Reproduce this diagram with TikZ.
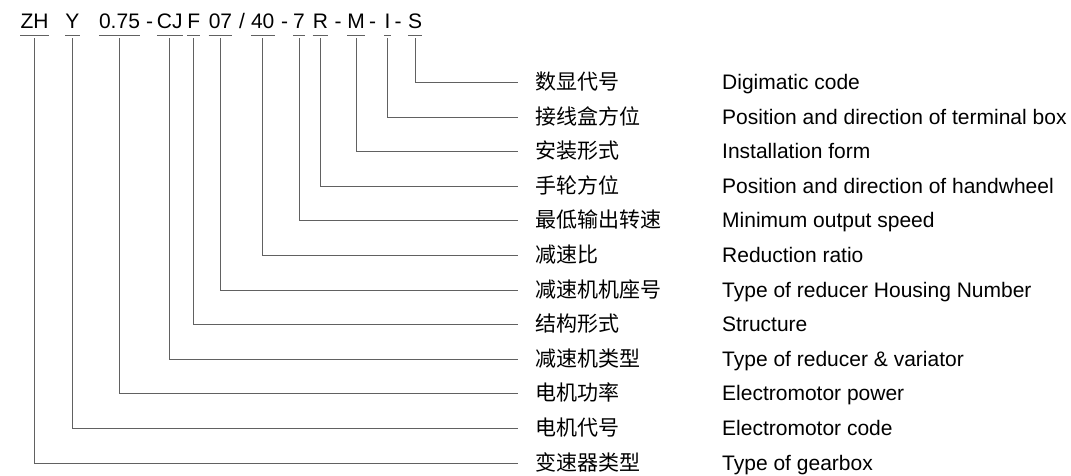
\documentclass[tikz,border=0pt]{standalone}
\usepackage{fontspec}
\setmainfont{Liberation Sans}
\newfontfamily\cjk{Noto Sans CJK SC}
\begin{document}
\begin{tikzpicture}[x=1pt,y=-1pt,
  font=\fontsize{21}{25}\selectfont,
  tok/.style={anchor=base, inner xsep=0pt, inner ysep=0pt, text height=15pt, text depth=7.2pt},
  link/.style={draw=black!62, line width=1pt},
  bar/.style={draw=black!62, line width=1pt},
  cn/.style={anchor=base west, inner sep=0pt, font=\cjk\fontsize{21}{25}\selectfont},
  en/.style={anchor=base west, inner sep=0pt}]
\useasboundingbox (0,0) rectangle (1071,476);
% code tokens
\foreach \i/\x/\s in {0/415/S, 1/387.5/I, 2/356/M, 3/320.5/R, 4/299/7, 5/262.7/40,
  6/220.5/07, 7/193.8/F, 8/169.8/CJ, 9/119.5/0.75, 10/72.5/Y, 11/34.5/ZH}{
  \node[tok] (t\i) at (\x,28.5) {\s};
  \draw[bar] (t\i.south west) -- (t\i.south east);
}
% separators
\node[tok] (d1) at (149.5,28.5) {-};
\node[tok] (d2) at (242,28.5) {/};
\node[tok] (d3) at (284.5,28.5) {-};
\node[tok] (d4) at (338,28.5) {-};
\node[tok] (d5) at (372.5,28.5) {-};
\node[tok] (d6) at (398,28.5) {-};
% rows
\foreach \i/\c/\e in {
  0/数显代号/Digimatic code,
  1/接线盒方位/Position and direction of terminal box,
  2/安装形式/Installation form,
  3/手轮方位/Position and direction of handwheel,
  4/最低输出转速/Minimum output speed,
  5/减速比/Reduction ratio,
  6/减速机机座号/Type of reducer Housing Number,
  7/结构形式/Structure,
  8/减速机类型/Type of reducer \& variator,
  9/电机功率/Electromotor power,
  10/电机代号/Electromotor code,
  11/变速器类型/Type of gearbox}{
  \coordinate (r\i) at (518, 82.5+34.6*\i);
  \draw[link] ([yshift=-2.3pt]t\i.south) |- (r\i);
  \node[cn] (c\i) at (535, 89.5+34.6*\i) {\c};
  \node[en] (e\i) at (722, 89.5+34.6*\i) {\e};
}
\end{tikzpicture}
\end{document}
